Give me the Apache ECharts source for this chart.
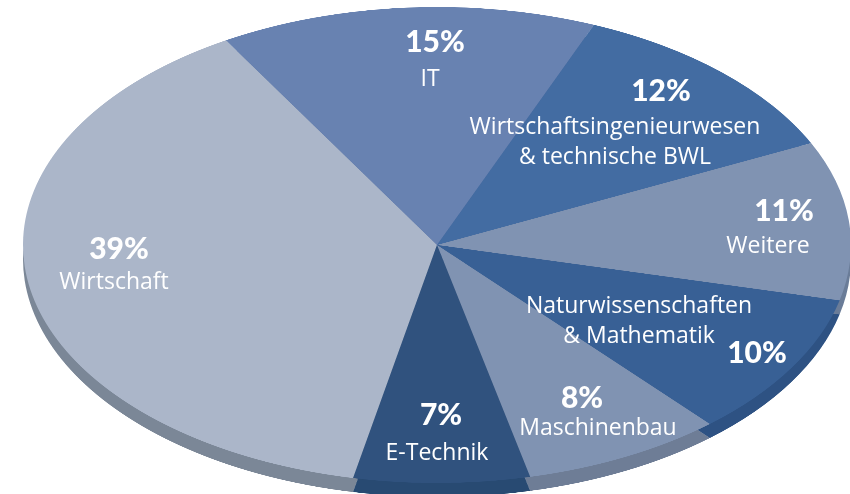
<!DOCTYPE html>
<html><head><meta charset="utf-8">
<script src="https://cdn.jsdelivr.net/npm/echarts@6/dist/echarts.min.js"></script>
<style>
html,body{margin:0;padding:0;background:#ffffff;overflow:hidden;}
#wrap{position:relative;width:850px;height:494px;overflow:hidden;background:#ffffff;}
#pie{position:absolute;left:0;top:0;width:850px;height:900px;transform:scaleY(0.57488);transform-origin:0 0;}
#lab{position:absolute;left:0;top:0;width:850px;height:494px;}
</style></head>
<body><div id="wrap"><div id="pie"></div><div id="lab"></div></div>
<script>
// ---- data ----
const categories = ['Wirtschaft', 'IT', 'Wirtschaftsingenieurwesen\n& technische BWL', 'Weitere', 'Naturwissenschaften\n& Mathematik', 'Maschinenbau', 'E-Technik'];
const values = [39, 15, 12, 11, 10, 8, 7];
const percentLabels = ['39%', '15%', '12%', '11%', '10%', '8%', '7%'];

// ---- styles / layout (not data) ----
const topColors  = ['#abb6c9', '#6882b1', '#436ca2', '#8093b2', '#386095', '#8093b2', '#30527e'];
const sideColors = ['#7b8797', '#51699a', '#335a8c', '#6a7c98', '#2e5283', '#6e7d96', '#284a72'];
const scaleK = 0.57488;              // vertical squash of the tilted pie
const pieCX = 437, pieCY = 245, pieR = 414, sideDrop = 14;
// label anchor positions in screen pixels: [pctX, pctY, nameX, nameY]
const labelPos = [
  [119, 249, 114, 282],
  [435, 42, 430, 79],
  [661, 91, 615, 142],
  [784, 211, 768, 246],
  [757, 353, 639, 321],
  [582, 398, 598, 428],
  [441, 415, 437, 453]
];

const pieData = categories.map((c, i) => ({ name: c, value: values[i], itemStyle: { color: topColors[i] } }));
const sideData = categories.map((c, i) => ({ name: c, value: values[i], itemStyle: { color: sideColors[i] } }));

const pieChart = echarts.init(document.getElementById('pie'), null, { renderer: 'canvas', devicePixelRatio: 2 });
pieChart.setOption({
  animation: false,
  series: [
    {
      type: 'pie', z: 1, silent: true,
      center: [pieCX, (pieCY + sideDrop) / scaleK],
      radius: [0, pieR],
      startAngle: 258.3, clockwise: true,
      label: { show: false }, labelLine: { show: false },
      emphasis: { disabled: true },
      data: sideData
    },
    {
      type: 'pie', z: 2, silent: true,
      center: [pieCX, pieCY / scaleK],
      radius: [0, pieR],
      startAngle: 258.3, clockwise: true,
      label: { show: false }, labelLine: { show: false },
      emphasis: { disabled: true },
      data: pieData
    }
  ]
});

const labChart = echarts.init(document.getElementById('lab'), null, { renderer: 'canvas' });
const elements = [];
categories.forEach((c, i) => {
  const p = labelPos[i];
  elements.push({
    type: 'text', x: p[0], y: p[1], silent: true,
    style: { text: percentLabels[i], fill: '#ffffff', font: '900 30px Lato, sans-serif', textAlign: 'center', textVerticalAlign: 'middle' }
  });
  elements.push({
    type: 'text', x: p[2], y: p[3], silent: true,
    style: { text: c, fill: '#ffffff', font: '23px "Open Sans", sans-serif', lineHeight: 30, textAlign: 'center', textVerticalAlign: 'middle' }
  });
});
labChart.setOption({ animation: false, graphic: { elements: elements } });
</script>
</body></html>
